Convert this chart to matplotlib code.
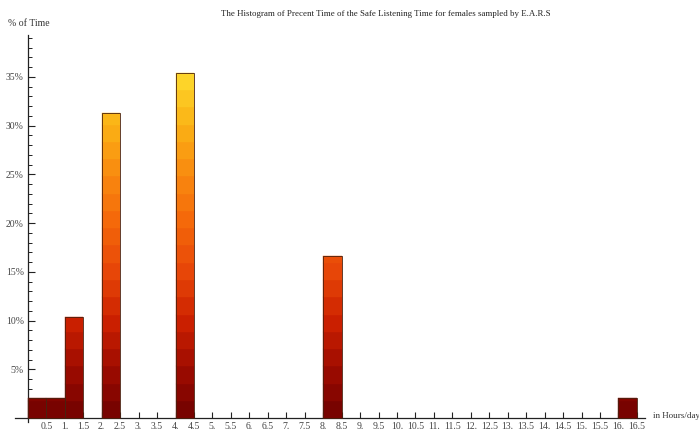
import matplotlib
matplotlib.use("Agg")
import matplotlib.pyplot as plt
import numpy as np
from matplotlib.colors import LinearSegmentedColormap
from matplotlib.ticker import FixedLocator

# Data: bins of 0.5 hour, percent of time
bin_left = [0.0, 0.5, 1.0, 2.0, 4.0, 8.0, 16.0]
percent = [2.083, 2.083, 10.417, 31.25, 35.417, 16.667, 2.083]
bin_width = 0.5
x_tick_values = [0.5 * k for k in range(1, 34)]
y_tick_values = [5, 10, 15, 20, 25, 30, 35]

title = "The Histogram of Precent Time of the Safe Listening Time for females sampled by E.A.R.S"
ylabel = "% of Time"
xlabel = "in Hours/day"

plt.rcParams['font.family'] = ['Liberation Serif', 'DejaVu Serif']

cmap = LinearSegmentedColormap.from_list("solar", [
    (0.0, "#6a0000"), (0.15, "#9a0a00"), (0.3, "#cc2000"), (0.45, "#e84808"),
    (0.6, "#f56a0a"), (0.75, "#f99010"), (0.88, "#fbb416"), (1.0, "#fdd52a")])

fig = plt.figure(figsize=(6.99, 4.30), dpi=100)
ax = fig.add_axes([15/699, (430-422)/430, (645-15)/699, (422-35)/430])
ax.set_xlim(-0.35, 16.72)
ax.set_ylim(-0.4, 39.3)

vmax = max(percent)
nb = 20
band = vmax / nb
for xl, h in zip(bin_left, percent):
    y0 = 0.0
    while y0 < h - 1e-9:
        y1 = min(y0 + band, h)
        c = cmap(min((y0 + y1) / 2 / vmax + 0.02, 1.0))
        ax.bar(xl, y1 - y0, width=bin_width, bottom=y0, align='edge',
               color=c, edgecolor=c, linewidth=0.3, zorder=3)
        y0 = y1
    ax.bar(xl, h, width=bin_width, align='edge', facecolor='none',
           edgecolor='#4a2210', linewidth=0.6, zorder=4)

for s in ['top', 'right']:
    ax.spines[s].set_visible(False)
ax.spines['left'].set_position(('data', 0))
ax.spines['bottom'].set_position(('data', 0))
for s in ['left', 'bottom']:
    ax.spines[s].set_linewidth(0.9)
    ax.spines[s].set_color('#222222')
ax.set_axisbelow(True)

ax.xaxis.set_major_locator(FixedLocator(x_tick_values))
ax.set_xticklabels([("%g" % v) if v % 1 else ("%d." % v) for v in x_tick_values])
ax.yaxis.set_major_locator(FixedLocator(y_tick_values))
ax.set_yticklabels(["%d%%" % v for v in y_tick_values])
ax.yaxis.set_minor_locator(FixedLocator([v for v in range(1, 40) if v % 5]))

ax.tick_params(axis='x', direction='in', length=4, width=0.8, pad=3, labelsize=7, colors='#222222')
ax.tick_params(axis='y', which='major', direction='in', length=5, width=0.8, pad=3, labelsize=7, colors='#222222')
ax.tick_params(axis='y', which='minor', direction='in', length=3, width=0.7, colors='#222222')
for lbl in ax.get_xticklabels() + ax.get_yticklabels():
    lbl.set_color('#444444')

fig.text(386/699, 1 - 14/430, title, ha='center', va='center', fontsize=6.4, color='#222222')
fig.text(8/699, 1 - 24/430, ylabel, ha='left', va='center', fontsize=7, color='#333333')
fig.text(653/699, 1 - 416/430, xlabel, ha='left', va='center', fontsize=6.5, color='#333333')

fig.savefig("out.png", dpi=100)
